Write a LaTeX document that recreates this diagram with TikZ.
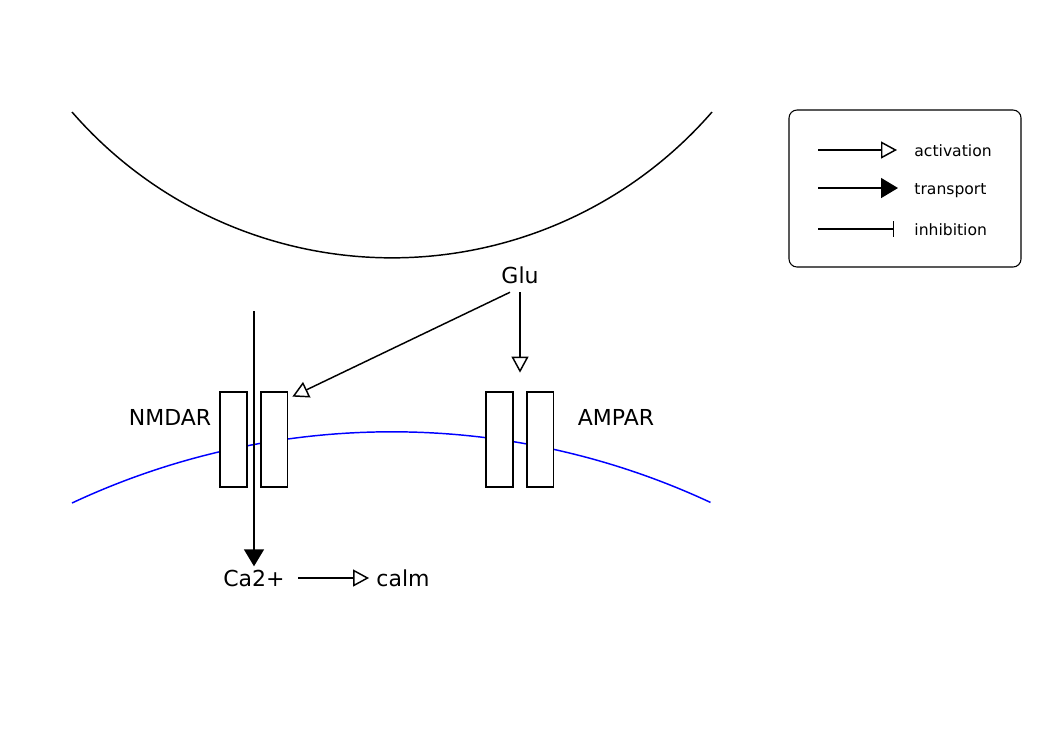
\documentclass[tikz,border=0pt]{standalone}
\usepackage{fontspec}
\setmainfont{DejaVu Sans}
\usetikzlibrary{arrows.meta, positioning}

\begin{document}
\begin{tikzpicture}[
    x=0.75pt, y=0.75pt, line width=1.1pt,
    ch/.style={rectangle, draw, fill=white, minimum width=20pt, minimum height=71.25pt, inner sep=0pt},
    lbl/.style={font=\fontsize{16.5}{20}\selectfont, inner sep=2pt},
    lg/.style={font=\fontsize{11.7}{14}\selectfont, inner sep=2pt},
    act/.style={-{Triangle[open, length=12pt, width=12.75pt]}},
    trans/.style={-{Triangle[length=12.75pt, width=15pt]}},
    inh/.style={-{Bar[width=12pt]}},
]
\useasboundingbox (0,0) rectangle (1052,-744);
\draw (72,-112) arc[start angle=221, end angle=319, radius=318pt];
\draw[blue] (72,-503) arc[start angle=115.1, end angle=65, radius=565.5pt];
\node[ch] (nmdaL) at (233.5,-439.5) {};
\node[ch, right=9.5pt of nmdaL] (nmdaR) {};
\node[ch] (ampaL) at (499.5,-439.5) {};
\node[ch, right=9.5pt of ampaL] (ampaR) {};
\node[lbl] (nmda) at (170,-417) {NMDAR};
\node[lbl] (ampa) at (616,-417) {AMPAR};
\node[lbl] (glu) at (520,-275) {Glu};
\node[lbl] (ca) at (254,-578) {Ca2+};
\node[lbl] (calm) at (403,-578) {calm};
\coordinate (catop) at (254,-311);
\draw[act, shorten <=4pt, shorten >=14pt] (glu.south) -- (glu |- ampaL.north);
\draw[act] ([shift={(-7.5pt,-4pt)}]glu.south) -- ([shift={(3pt,-4pt)}]nmdaR.north east);
\draw[trans] (catop) -- (ca.north);
\draw[act, shorten <=7.5pt, shorten >=3pt] (ca) -- (calm);
\node[draw, line width=0.8pt, rounded corners=6pt, minimum width=174pt, minimum height=117.75pt] (legend) at (905,-188.5) {};
\node[lg, anchor=base west] (actL) at (911,-156) {activation};
\node[lg, anchor=base west] (transL) at (911,-194) {transport};
\node[lg, anchor=base west] (inhL) at (911,-235) {inhibition};
\coordinate (a1) at (818,-150);
\coordinate (a2) at (818,-188);
\coordinate (a3) at (818,-229);
\draw[act, shorten >=10.5pt] (a1) -- (a1 -| actL.west);
\draw[trans, shorten >=9.75pt] (a2) -- (a2 -| transL.west);
\draw[inh, shorten >=12.75pt] (a3) -- (a3 -| inhL.west);
\end{tikzpicture}
\end{document}
